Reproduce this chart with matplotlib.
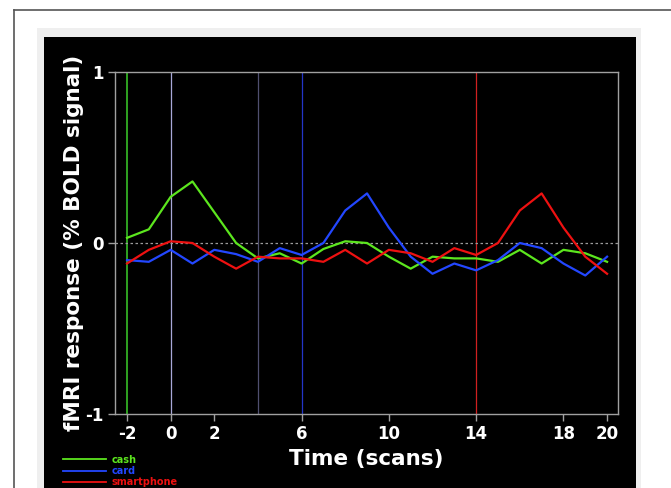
import matplotlib
matplotlib.use('Agg')
import matplotlib.pyplot as plt
from matplotlib.patches import Rectangle
from matplotlib.lines import Line2D

plt.rcParams['axes.unicode_minus'] = False

# время (сканы) и ответы по условиям
scans = list(range(-2, 21))
cash = [0.03, 0.08, 0.27, 0.36, 0.18, 0.0, -0.09, -0.06, -0.12, -0.035, 0.01, 0.0,
        -0.08, -0.15, -0.08, -0.09, -0.09, -0.11, -0.04, -0.12, -0.04, -0.06, -0.11]
card = [-0.10, -0.11, -0.04, -0.12, -0.04, -0.065, -0.11, -0.03, -0.07, 0.0, 0.19, 0.29,
        0.09, -0.08, -0.18, -0.12, -0.16, -0.10, 0.0, -0.03, -0.12, -0.19, -0.08]
smartphone = [-0.12, -0.04, 0.01, 0.0, -0.08, -0.15, -0.08, -0.09, -0.09, -0.11, -0.04, -0.12,
              -0.04, -0.06, -0.11, -0.03, -0.07, 0.0, 0.19, 0.29, 0.09, -0.08, -0.18]

# вертикальные линии событий
events = [-2, 0, 4, 6, 14]
event_colors = ['#3ccf2a', '#a8a8d8', '#505070', '#2335c8', '#d02020']
xticks = [-2, 0, 2, 6, 10, 14, 18, 20]
yticks = [-1, 0, 1]

W, H = 671, 488
fig = plt.figure(figsize=(W / 100, H / 100), dpi=100)
fig.patch.set_facecolor('white')

# рамки фона (под осями)
fig.patches.append(Rectangle((37 / W, 0), (641 - 37) / W, (488 - 28) / H,
                             transform=fig.transFigure, facecolor='#efefef', edgecolor='none', zorder=-3))
fig.patches.append(Rectangle((44 / W, 0), (636 - 44) / W, (488 - 37) / H,
                             transform=fig.transFigure, facecolor='black', edgecolor='none', zorder=-2))
fig.lines.append(Line2D([14 / W, 1], [1 - 10 / H, 1 - 10 / H], transform=fig.transFigure,
                        color='#555555', lw=1.2, zorder=-3))
fig.lines.append(Line2D([14 / W, 14 / W], [0, 1 - 10 / H], transform=fig.transFigure,
                        color='#555555', lw=1.2, zorder=-3))

ax = fig.add_axes([115 / W, (H - 414) / H, (618 - 115) / W, (414 - 72) / H])
ax.set_facecolor('black')
ax.set_xlim(-2.55, 20.5)
ax.set_ylim(-1, 1)

for x, c in zip(events, event_colors):
    ax.axvline(x, color=c, lw=1.1 if x == -2 else 0.9, zorder=1)
ax.axhline(0, color='#9a9a9a', lw=0.9, ls=(0, (2, 2)), zorder=1)

ax.plot(scans, cash, color='#5ce61e', lw=1.6, zorder=3)
ax.plot(scans, card, color='#2347ff', lw=1.6, zorder=3)
ax.plot(scans, smartphone, color='#ee1111', lw=1.6, zorder=3)

for s in ax.spines.values():
    s.set_color('#a0a0a0')
    s.set_linewidth(1)
ax.set_xticks(xticks)
ax.set_yticks(yticks)
ax.tick_params(colors='#a0a0a0', length=5, width=1, labelcolor='white', labelsize=12, pad=3)
for lab in ax.get_xticklabels() + ax.get_yticklabels():
    lab.set_fontweight('bold')

ax.set_xlabel('Time (scans)', color='white', fontsize=15.5, fontweight='bold', labelpad=4)
ax.set_ylabel('fMRI response (% BOLD signal)', color='white', fontsize=15.5, fontweight='bold', labelpad=1)

handles = [Line2D([], [], color='#5ce61e', lw=1.3),
           Line2D([], [], color='#2347ff', lw=1.3),
           Line2D([], [], color='#ee1111', lw=1.3)]
leg = fig.legend(handles, ['cash', 'card', 'smartphone'], loc='upper left',
                 bbox_to_anchor=(58 / W, 1 - 450 / H), frameon=False,
                 prop={'weight': 'bold', 'size': 7}, handlelength=4.4, handletextpad=0.6,
                 labelspacing=0.12, borderpad=0, labelcolor='linecolor')

fig.savefig('out.png', dpi=100, facecolor=fig.get_facecolor())
